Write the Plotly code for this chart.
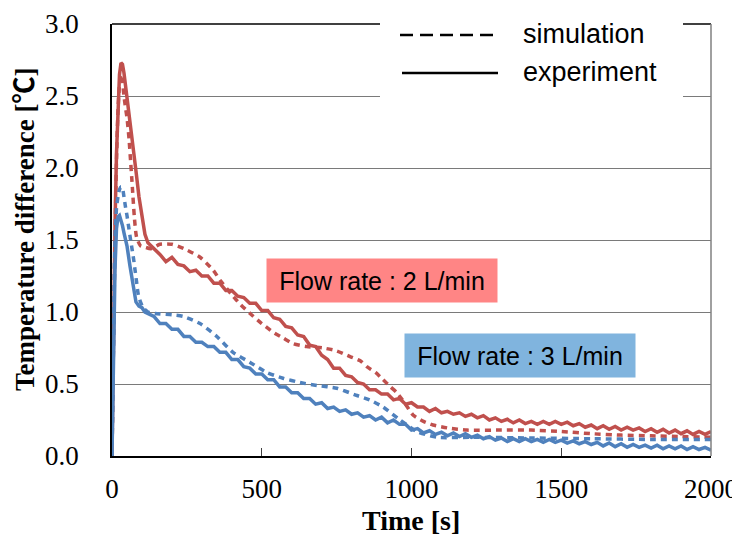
import plotly.graph_objects as go

# ---------------- data ----------------
red_exp_t = [0, 5, 10, 15, 20, 25, 30, 35, 40, 45, 50, 55, 60, 65, 70, 80, 90, 100, 110, 120] + list(range(140, 2001, 20))
red_exp_v = [0.0, 0.9, 1.6, 2.1, 2.45, 2.65, 2.73, 2.72, 2.66, 2.58, 2.5, 2.42, 2.34, 2.25, 2.15, 1.98, 1.8, 1.65, 1.54, 1.48,
             1.44, 1.40, 1.35, 1.38, 1.33, 1.32, 1.28, 1.29, 1.25, 1.25,
             1.20, 1.20, 1.15, 1.15, 1.11, 1.10, 1.06, 1.06, 1.01, 1.01,
             0.96, 0.95, 0.90, 0.89, 0.84, 0.83, 0.77, 0.76, 0.70, 0.67,
             0.61, 0.61, 0.56, 0.55, 0.51, 0.50, 0.46, 0.46, 0.43, 0.43,
             0.39, 0.40, 0.36, 0.37, 0.34, 0.34, 0.31, 0.33, 0.30, 0.31,
             0.29, 0.30, 0.275, 0.29, 0.265, 0.28, 0.25, 0.265, 0.24, 0.255,
             0.23, 0.25, 0.225, 0.24, 0.22, 0.24, 0.22, 0.24, 0.22, 0.235,
             0.21, 0.225, 0.20, 0.215, 0.19, 0.21, 0.185, 0.205, 0.18, 0.20,
             0.18, 0.195, 0.17, 0.19, 0.165, 0.185, 0.16, 0.18, 0.155, 0.175,
             0.15, 0.17, 0.15, 0.17]

blue_exp_t = [0, 5, 10, 15, 20, 25, 30, 35, 40, 50, 60, 70, 80, 90, 100, 110, 120] + list(range(140, 2001, 20))
blue_exp_v = [0.0, 0.7, 1.3, 1.58, 1.66, 1.67, 1.64, 1.6, 1.55, 1.46, 1.32, 1.18, 1.07, 1.04, 1.03, 1.00, 0.99,
              0.97, 0.92, 0.92, 0.88, 0.88, 0.83, 0.83, 0.79, 0.79, 0.76,
              0.76, 0.72, 0.72, 0.67, 0.67, 0.62, 0.61, 0.57, 0.57, 0.53,
              0.53, 0.48, 0.48, 0.44, 0.44, 0.40, 0.40, 0.36, 0.37, 0.33,
              0.34, 0.31, 0.32, 0.29, 0.30, 0.27, 0.28, 0.25, 0.27, 0.23,
              0.25, 0.22, 0.22, 0.18, 0.19, 0.16, 0.175, 0.15, 0.165, 0.14,
              0.16, 0.135, 0.155, 0.13, 0.145, 0.12, 0.135, 0.11, 0.125, 0.10,
              0.12, 0.10, 0.12, 0.10, 0.115, 0.095, 0.115, 0.095, 0.11, 0.09,
              0.105, 0.085, 0.10, 0.08, 0.095, 0.07, 0.09, 0.065, 0.085, 0.06,
              0.08, 0.06, 0.075, 0.055, 0.075, 0.05, 0.07, 0.05, 0.07, 0.045,
              0.065, 0.045, 0.06, 0.04]

red_sim_t = [0, 5, 10, 15, 20, 25, 30, 35, 40, 45, 50, 57, 62, 66, 70, 75, 82, 95, 110, 130,
             160, 200, 240, 294, 338, 361, 400, 430, 461, 500, 538, 571, 605, 650, 705, 750, 795, 830, 851, 880,
             905, 930, 951, 980, 1005, 1040, 1072, 1120, 1185, 1300, 1400, 1500, 1600, 1700, 1800, 1900, 2000]
red_sim_v = [0.0, 0.8, 1.5, 2.05, 2.4, 2.58, 2.65, 2.6, 2.5, 2.42, 2.35, 2.2, 2.05, 1.93, 1.8, 1.65, 1.52, 1.46, 1.45, 1.44,
             1.47, 1.47, 1.44, 1.38, 1.29, 1.22, 1.12, 1.05, 0.99, 0.92, 0.86, 0.82, 0.78, 0.76, 0.75, 0.73, 0.69, 0.66, 0.62, 0.58,
             0.53, 0.48, 0.44, 0.36, 0.285, 0.24, 0.215, 0.195, 0.18, 0.18, 0.18, 0.17, 0.155, 0.145, 0.14, 0.135, 0.13]

blue_sim_t = [0, 5, 10, 15, 20, 25, 30, 35, 40, 45, 50, 55, 60, 66, 72, 77, 82, 87, 95, 104,
              120, 144, 200, 237, 294, 350, 404, 461, 517, 571, 628, 684, 751, 818, 860, 905, 962, 1018, 1085, 1200,
              1400, 1600, 1800, 2000]
blue_sim_v = [0.0, 0.8, 1.5, 1.72, 1.8, 1.85, 1.87, 1.86, 1.8, 1.73, 1.67, 1.6, 1.53, 1.45, 1.37, 1.29, 1.21, 1.13, 1.07, 1.03,
              1.0, 0.99, 0.98, 0.97, 0.92, 0.83, 0.72, 0.65, 0.58, 0.54, 0.51, 0.49, 0.47, 0.42, 0.39, 0.34, 0.25, 0.17, 0.13, 0.13,
              0.125, 0.12, 0.115, 0.115]

assert len(red_exp_t) == len(red_exp_v)
assert len(blue_exp_t) == len(blue_exp_v)
assert len(red_sim_t) == len(red_sim_v)
assert len(blue_sim_t) == len(blue_sim_v)

x_ticks = [0, 500, 1000, 1500, 2000]
y_ticks = [0.0, 0.5, 1.0, 1.5, 2.0, 2.5, 3.0]

RED = "#C0504D"
BLUE = "#4F81BD"
SERIF = "Liberation Serif, Times New Roman, Noto Sans CJK JP, serif"
SANS = "Liberation Sans, Arial, sans-serif"

fig = go.Figure()
sim_dash = "6px,5px"
fig.add_trace(go.Scatter(x=red_sim_t, y=red_sim_v, mode="lines", name="simulation 2 L/min",
                         line=dict(color=RED, width=3.5, dash=sim_dash, shape="spline", smoothing=0.6)))
fig.add_trace(go.Scatter(x=red_exp_t, y=red_exp_v, mode="lines", name="experiment 2 L/min",
                         line=dict(color=RED, width=3.5)))
fig.add_trace(go.Scatter(x=blue_sim_t, y=blue_sim_v, mode="lines", name="simulation 3 L/min",
                         line=dict(color=BLUE, width=3.5, dash=sim_dash, shape="spline", smoothing=0.6)))
fig.add_trace(go.Scatter(x=blue_exp_t, y=blue_exp_v, mode="lines", name="experiment 3 L/min",
                         line=dict(color=BLUE, width=3.5)))

# The page body has an 8px offset; the plot area should land at screen x 112..711, y 24..456.
fig.update_layout(
    width=740, height=537,
    margin=dict(l=104, r=37, t=16, b=89, autoexpand=False),
    plot_bgcolor="white", paper_bgcolor="white",
    showlegend=False,
    xaxis=dict(range=[0, 2000], tickvals=x_ticks, ticktext=[str(v) for v in x_ticks],
               ticks="inside", ticklen=8, tickcolor="#404040", tickwidth=1,
               showline=True, linecolor="black", linewidth=1.5,
               showgrid=False, zeroline=False, automargin=False,
               tickfont=dict(family=SERIF, size=27, color="black"), ticklabelstandoff=8),
    yaxis=dict(range=[0, 3], tickvals=y_ticks, ticktext=["%.1f" % v for v in y_ticks],
               ticks="", showline=True, linecolor="black", linewidth=1.5,
               showgrid=True, gridcolor="#7a7a7a", gridwidth=1.3, zeroline=False, automargin=False,
               tickfont=dict(family=SERIF, size=27, color="black"), ticklabelstandoff=26),
)

def px_x(p):
    return (p - 112) / 599.0

def px_y(p):
    return (456 - p) / 432.0

shapes = [
    dict(type="line", xref="paper", yref="paper", x0=0, x1=1, y0=1, y1=1, line=dict(color="black", width=1.5), layer="above"),
    dict(type="line", xref="paper", yref="paper", x0=1, x1=1, y0=0, y1=1, line=dict(color="#808080", width=1.5), layer="above"),
    # legend box
    dict(type="rect", xref="paper", yref="paper", x0=px_x(380), x1=px_x(683), y0=px_y(99), y1=px_y(8),
         fillcolor="white", line=dict(width=0), layer="above"),
    dict(type="line", xref="paper", yref="paper", x0=px_x(400), x1=px_x(498), y0=px_y(35), y1=px_y(35),
         line=dict(color="black", width=2.5, dash="13px,7px"), layer="above"),
    dict(type="line", xref="paper", yref="paper", x0=px_x(402), x1=px_x(498), y0=px_y(73), y1=px_y(73),
         line=dict(color="black", width=2.5), layer="above"),
]
fig.update_layout(shapes=shapes)

annotations = [
    dict(text="simulation", xref="paper", yref="paper", x=px_x(521), y=px_y(34), xanchor="left", yanchor="middle",
         showarrow=False, font=dict(family=SANS, size=27, color="black")),
    dict(text="experiment", xref="paper", yref="paper", x=px_x(521), y=px_y(72), xanchor="left", yanchor="middle",
         showarrow=False, font=dict(family=SANS, size=27, color="black")),
    dict(text="Flow rate : 2 L/min", xref="x", yref="y", x=901.5, y=1.219, showarrow=False,
         width=230, height=43, bgcolor="#FF8585", borderpad=0,
         font=dict(family=SANS, size=25, color="black")),
    dict(text="Flow rate : 3 L/min", xref="x", yref="y", x=1362, y=0.698, showarrow=False,
         width=230, height=43, bgcolor="#80B4DE", borderpad=0,
         font=dict(family=SANS, size=25, color="black")),
    dict(text="Temperature difference [℃]", xref="paper", yref="paper", x=px_x(25), y=px_y(230),
         xanchor="center", yanchor="middle", textangle=-90, showarrow=False,
         font=dict(family=SERIF, size=27, color="black", weight="bold")),
    dict(text="Time [s]", xref="paper", yref="paper", x=px_x(411), y=px_y(520),
         xanchor="center", yanchor="middle", showarrow=False,
         font=dict(family=SERIF, size=28, color="black", weight="bold")),
]
fig.update_layout(annotations=annotations)

fig.write_html("out.html")
